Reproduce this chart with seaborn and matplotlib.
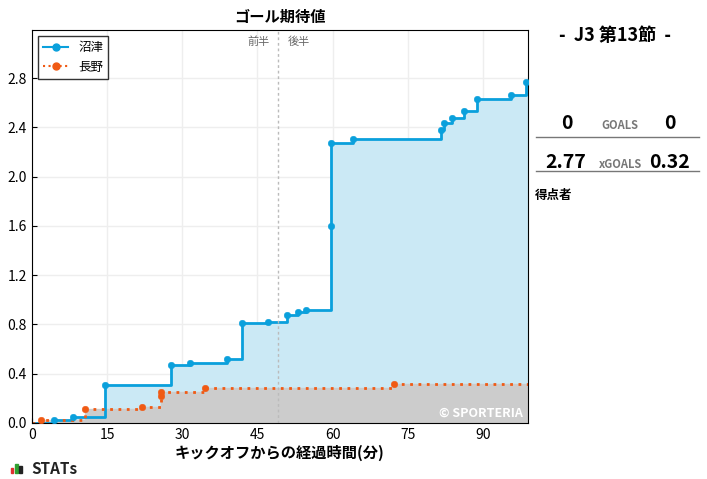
import numpy as np
import pandas as pd
import matplotlib.pyplot as plt
import seaborn as sns

plt.rcParams["font.family"] = "Noto Sans CJK JP"

numazu_min = [4.4, 8.2, 14.6, 27.8, 31.6, 39, 42, 47.2, 51, 53, 54.6, 59.6, 59.6, 64, 81.6, 82.2, 83.8, 86.2, 88.8, 95.6, 98.6]
numazu_xg = [0.02, 0.05, 0.31, 0.47, 0.49, 0.52, 0.81, 0.82, 0.88, 0.90, 0.92, 1.60, 2.27, 2.31, 2.38, 2.44, 2.48, 2.53, 2.63, 2.66, 2.77]
nagano_min = [1.8, 10.6, 22, 25.8, 25.8, 34.6, 72.2]
nagano_xg = [0.02, 0.11, 0.13, 0.22, 0.25, 0.28, 0.32]
end_min = 99

blue = "#0aa0dc"
orange = "#f05a14"

fig = plt.figure(figsize=(7.07, 4.79), dpi=100)
ax = fig.add_axes([0.045, 0.117, 0.702, 0.82])

def steps(mins, vals):
    x = [0] + list(mins) + [end_min]
    y = [0] + list(vals) + [vals[-1]]
    return x, y

nx, ny = steps(numazu_min, numazu_xg)
gx, gy = steps(nagano_min, nagano_xg)
ax.fill_between(nx, ny, step="post", color="#cbe9f5")
ax.fill_between(gx, gy, step="post", color="#cccccc")
ax.step(nx, ny, where="post", color=blue, lw=2)
ax.step(gx, gy, where="post", color=orange, lw=2, ls=(0, (1, 2)))
sns.scatterplot(x=numazu_min, y=numazu_xg, ax=ax, color=blue, s=22, edgecolor=blue, zorder=5)
sns.scatterplot(x=nagano_min, y=nagano_xg, ax=ax, color=orange, s=22, edgecolor=orange, zorder=5)
ax.plot([], [], color=blue, lw=1.5, marker="o", ms=5, label="沼津")
ax.plot([], [], color=orange, lw=1.5, ls=":", marker="o", ms=5, label="長野")

ax.axvline(49.2, color="#bbbbbb", ls=(0, (2, 2)), lw=1)
ax.text(47.5, 3.07, "前半", ha="right", fontsize=8, color="#666666")
ax.text(51, 3.07, "後半", ha="left", fontsize=8, color="#666666")
ax.text(98, 0.05, "© SPORTERIA", ha="right", fontsize=9, color="white", fontweight="bold")

ax.set_xlim(0, end_min)
ax.set_ylim(0, 3.19)
ax.set_xticks(range(0, 91, 15))
ax.set_yticks(np.arange(0, 2.81, 0.4))
ax.set_yticklabels([f"{v:.1f}" for v in np.arange(0, 2.81, 0.4)])
ax.tick_params(direction="in", labelsize=10)
ax.grid(color="#eeeeee", lw=1)
ax.set_axisbelow(True)
ax.set_title("ゴール期待値", fontsize=11, fontweight="bold")
ax.set_xlabel("キックオフからの経過時間(分)", fontsize=11, fontweight="bold", labelpad=2)
leg = ax.legend(loc="upper left", fontsize=9, frameon=True, fancybox=False, edgecolor="black")

fig.text(0.87, 0.915, "-  J3 第13節  -", ha="center", fontsize=13, fontweight="bold")
fig.text(0.802, 0.73, "0", ha="center", fontsize=14, fontweight="bold")
fig.text(0.877, 0.73, "GOALS", ha="center", fontsize=8, fontweight="bold", color="#777777")
fig.text(0.947, 0.73, "0", ha="center", fontsize=14, fontweight="bold")
fig.text(0.80, 0.65, "2.77", ha="center", fontsize=14, fontweight="bold")
fig.text(0.877, 0.65, "xGOALS", ha="center", fontsize=8, fontweight="bold", color="#777777")
fig.text(0.947, 0.65, "0.32", ha="center", fontsize=14, fontweight="bold")
for yy in (0.715, 0.643):
    fig.add_artist(plt.Line2D([0.758, 0.988], [yy, yy], color="#777777", lw=1))
fig.text(0.757, 0.585, "得点者", fontsize=9, fontweight="bold")
for i, (h, c) in enumerate([(0.012, "#e03030"), (0.02, "#30a030"), (0.016, "#222222")]):
    fig.add_artist(plt.Rectangle((0.015 + i * 0.006, 0.012), 0.004, h, color=c))
fig.text(0.045, 0.01, "STATs", fontsize=11, fontweight="bold", color="#222222")

fig.savefig("out.png")
